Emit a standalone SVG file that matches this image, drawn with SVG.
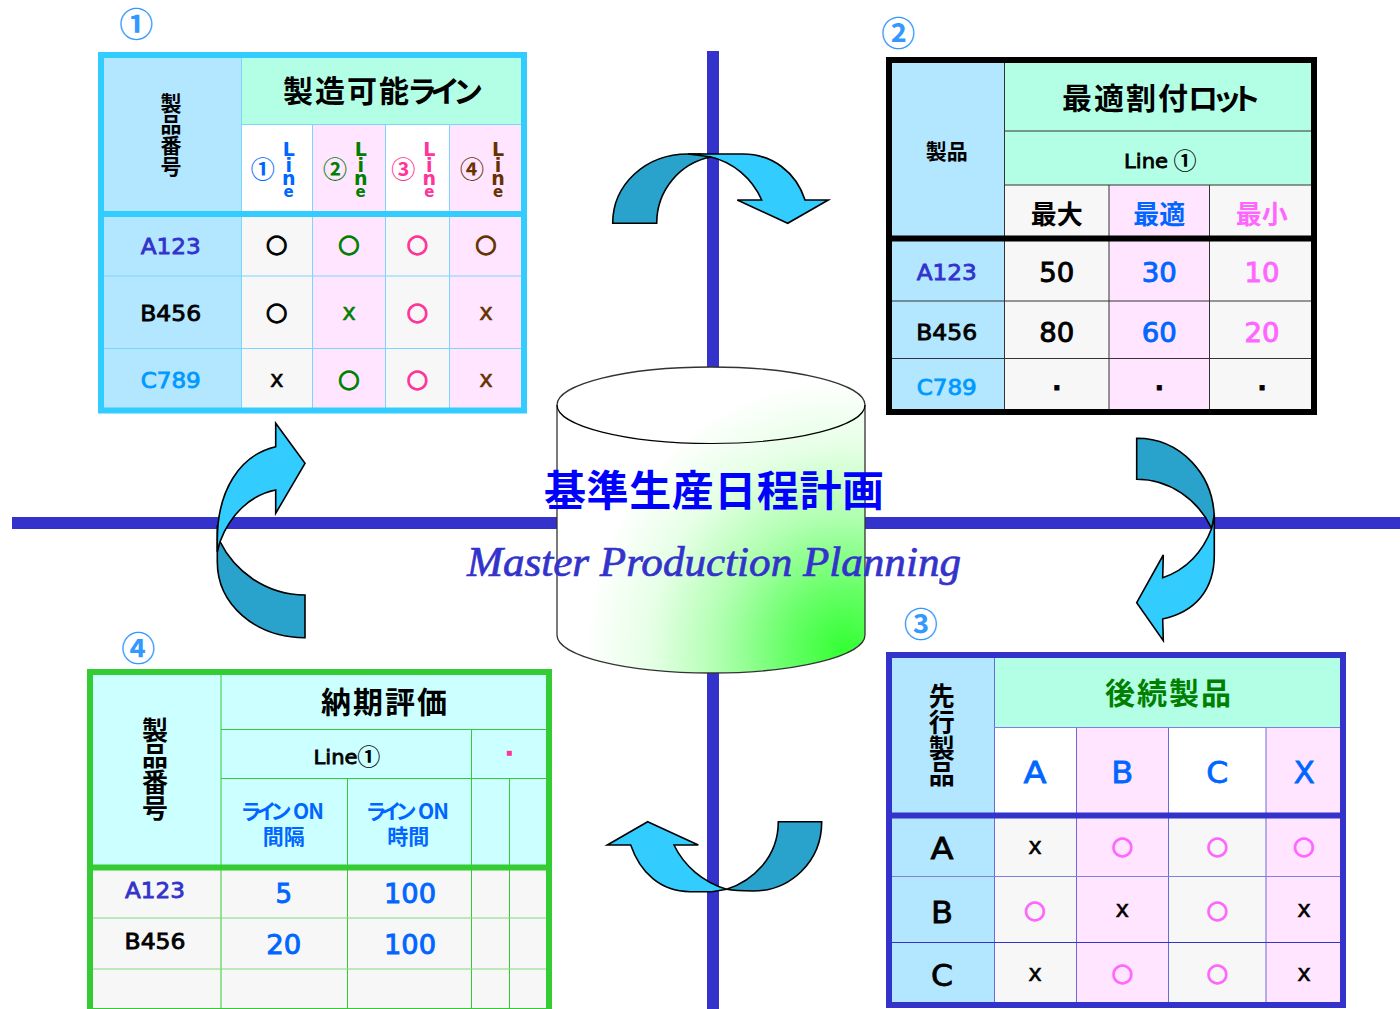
<svg xmlns="http://www.w3.org/2000/svg" width="1400" height="1009" viewBox="0 0 1400 1009">
<style>
text{text-anchor:middle}
.l{font-family:"DejaVu Sans",sans-serif;stroke-width:.8}
.j{font-family:"Noto Sans CJK JP",sans-serif;font-weight:700;stroke-width:0}
.s{text-anchor:start}
.k{fill:#000;stroke:#000}.b{fill:#06f;stroke:#06f}.g{fill:#007f00;stroke:#007f00}.p{fill:#f39;stroke:#f39}.r{fill:#630;stroke:#630}.v{fill:#f6f;stroke:#f6f}.i{fill:#33c;stroke:#33c}.c{fill:#09f;stroke:#09f}
.o{font-family:"DejaVu Sans",sans-serif;font-size:25px;stroke-width:1.1;transform:translateY(-1.500px)}
.x{font-family:"DejaVu Sans",sans-serif;font-size:23px;stroke-width:.5}
.num{font-family:"DejaVu Sans",sans-serif;font-size:26px;stroke-width:.9}
.id{font-family:"DejaVu Sans",sans-serif;font-size:21.5px;stroke-width:.8}
.lab{font-family:"Noto Sans CJK JP",sans-serif;font-weight:700;font-size:34px;fill:#39f}
.ln{font-family:"DejaVu Sans",sans-serif;font-weight:700;font-size:19px;stroke-width:0}
.arrow{stroke:#000;stroke-width:1.6;stroke-linejoin:miter}
.dark{fill:#29a3cc}.light{fill:#3cf}
.fb{fill:#b3e6ff}.fm{fill:#b3ffe5}.fw{fill:#fff}.fp{fill:#ffe5ff}.fa{fill:#f7f7f7}.fc{fill:#cff}
.grid{fill:none;stroke-width:1}
</style>
<defs>
<radialGradient id="cyl" gradientUnits="userSpaceOnUse" cx="0" cy="0" r="1" gradientTransform="translate(845 650) scale(260 272)">
<stop offset="0" stop-color="#3f3"/><stop offset=".22" stop-color="#6f6"/><stop offset=".5" stop-color="#b3ffb3"/><stop offset=".75" stop-color="#e6ffe6"/><stop offset="1" stop-color="#fff"/>
</radialGradient>
</defs>
<rect width="1400" height="1009" fill="#fff"/>
<g id="cross" fill="#33c"><rect x="12" y="517" width="1388" height="12"/><rect x="707" y="51" width="12" height="958"/></g>

<g id="cylinder">
<path d="M557 405C557 384 626 367 711 367S865 384 865 405V635C865 656 796 673 711 673S557 656 557 635Z" fill="url(#cyl)" stroke="#333" stroke-width="1.3"/>
<path d="M557 405C557 426 626 443.500 711 443.500S865 426 865 405" fill="none" stroke="#000" stroke-width="1.2"/>
</g>

<g id="connectors">
<path class="arrow dark" d="M612.700 223.300C612.700 185 645 154 688 154L700 154Q706 154 711 157C680 163 656.700 190 656.700 223.300Z"/>
<path class="arrow light" d="M688 154H743C772 154 796 172 805 200H828.300L787.700 223.300L737.300 200H761.700C752 178 733 162 710 156.700Z"/>
<path class="arrow dark" d="M1136.700 438.300V479.300C1170 479.300 1198 500 1211.700 528.300L1214.300 520C1214.300 474 1180 438.300 1136.700 438.300Z"/>
<path class="arrow light" d="M1214.300 515V555C1214.300 590 1195 612 1162.700 619L1163.300 640.700L1136.700 602.700L1163.300 555L1162.700 577.700C1186 570 1203 552 1211.700 528.300Z"/>
<path class="arrow dark" d="M778.300 821.700H821.700C821.700 862 790 891 753.300 891C742 891 735 891 726.700 889.300C752 881 778.300 858 778.300 821.700Z"/>
<path class="arrow light" d="M647.700 821.700L698.300 845H674C684 866 703 882 726.700 889.300L712 891.700H690C660 891.700 640 872 630.700 845H607.300Z"/>
<path class="arrow dark" d="M305 595V637.700C255 637.700 217.300 604 217.300 561.700V525L220 541.700C234 570 265 595 305 595Z"/>
<path class="arrow light" d="M305 463.300L275.700 513.300V490C250 495 230 515 220 541.700L217.300 552V540C217.300 490 240 455 275.700 446.700V423.300Z"/>
</g>

<g id="table1">
<rect class="fb" x="101" y="55" width="141" height="355"/>
<rect class="fm" x="241.500" y="55" width="282" height="70"/>
<rect class="fw" x="241.500" y="125" width="71" height="89"/><rect class="fw" x="385.500" y="125" width="64" height="89"/>
<rect class="fp" x="312.500" y="125" width="73" height="285"/><rect class="fp" x="449.500" y="125" width="74" height="285"/>
<rect class="fa" x="241.500" y="214" width="71" height="196"/><rect class="fa" x="385.500" y="214" width="64" height="196"/>
<path class="grid" stroke="#7cd4ff" d="M241.500 58V408M312.500 125V408M385.500 125V408M449.500 125V408M241.500 124.500H521M104 276H521M104 348.500H521"/>
<rect x="101" y="55" width="423" height="355.500" fill="none" stroke="#3cf" stroke-width="6"/>
<path d="M98 214H527" stroke="#3cf" stroke-width="6"/>
<text class="j k" font-size="21" x="171 171 171 171" y="110.500 131.500 152.500 173.500">製品番号</text>
<text class="j k s" font-size="30" x="283 315 347 379 407 430 453" y="102">製造可能ライン</text>
<text class="j b" font-size="24" x="262.700" y="177.500">①</text><text class="b ln" x="288.700 288.700 288.700" y="156 172 185">Lin<tspan x="288.700" y="197" font-size="15">e</tspan></text>
<text class="j g" font-size="24" x="335" y="177.500">②</text><text class="g ln" x="360.700 360.700 360.700" y="156 172 185">Lin<tspan x="360.700" y="197" font-size="15">e</tspan></text>
<text class="j p" font-size="24" x="403.300" y="177.500">③</text><text class="p ln" x="429.300 429.300 429.300" y="156 172 185">Lin<tspan x="429.300" y="197" font-size="15">e</tspan></text>
<text class="j r" font-size="24" x="472" y="177.500">④</text><text class="r ln" x="498 498 498" y="156 172 185">Lin<tspan x="498" y="197" font-size="15">e</tspan></text>
<text class="id i" x="170.700" y="253.500" textLength="60" lengthAdjust="spacingAndGlyphs">A123</text><text class="id k" x="170.700" y="320.500" textLength="61" lengthAdjust="spacingAndGlyphs">B456</text><text class="id c" x="170.700" y="387.500" textLength="60" lengthAdjust="spacingAndGlyphs">C789</text>
<text class="o k" x="276.700" y="253.500">○</text><text class="o g" x="349" y="253.500">○</text><text class="o p" x="417.300" y="253.500">○</text><text class="o r" x="486" y="253.500">○</text>
<text class="o k" x="276.700" y="321">○</text><text class="x g" x="349" y="319.500">x</text><text class="o p" x="417.300" y="321">○</text><text class="x r" x="486" y="319.500">x</text>
<text class="x k" x="276.700" y="386.500">x</text><text class="o g" x="349" y="388">○</text><text class="o p" x="417.300" y="388">○</text><text class="x r" x="486" y="386.500">x</text>
</g>
<text id="label1" class="lab" x="136.300" y="37">①</text>

<g id="table2">
<rect class="fb" x="889" y="60" width="116" height="352"/>
<rect class="fm" x="1005" y="60" width="309" height="125"/>
<rect class="fa" x="1005" y="185" width="104" height="227"/>
<rect class="fp" x="1109" y="185" width="100" height="227"/>
<rect class="fa" x="1209" y="185" width="105" height="227"/>
<path class="grid" stroke="#333" d="M1004.500 63V409M1109 185V409M1209.500 185V409"/>
<path class="grid" stroke="#333" stroke-width="1.300" d="M1005 131H1311M1005 185H1311M892 301H1311M892 358.500H1311"/>
<rect x="889" y="60" width="425" height="352" fill="none" stroke="#000" stroke-width="6"/>
<path d="M886 238.500H1317" stroke="#000" stroke-width="6"/>
<text class="j k" font-size="21" x="946.700" y="158.500">製品</text>
<text class="j k s" font-size="30" x="1062 1094 1126 1158 1188 1212 1231" y="109">最適割付ロット</text>
<text class="l k" font-size="20" x="1146" y="167.500" textLength="44" lengthAdjust="spacingAndGlyphs">Line</text><text class="j k" font-size="23" x="1185" y="168.500">①</text>
<text class="j k" font-size="26" x="1056.700" y="223.500">最大</text><text class="j b" font-size="26" x="1159.300" y="223.500">最適</text><text class="j v" font-size="26" x="1261.700" y="223.500">最小</text>
<text class="id i" x="946.700" y="279.500" textLength="60" lengthAdjust="spacingAndGlyphs">A123</text><text class="id k" x="946.700" y="340" textLength="61" lengthAdjust="spacingAndGlyphs">B456</text><text class="id c" x="946.700" y="395" textLength="60" lengthAdjust="spacingAndGlyphs">C789</text>
<text class="num k" x="1056.700" y="282" textLength="35" lengthAdjust="spacingAndGlyphs">50</text><text class="num b" x="1159.300" y="282" textLength="35" lengthAdjust="spacingAndGlyphs">30</text><text class="num v" x="1262" y="282" textLength="35" lengthAdjust="spacingAndGlyphs">10</text>
<text class="num k" x="1056.700" y="342" textLength="35" lengthAdjust="spacingAndGlyphs">80</text><text class="num b" x="1159.300" y="342" textLength="35" lengthAdjust="spacingAndGlyphs">60</text><text class="num v" x="1262" y="342" textLength="35" lengthAdjust="spacingAndGlyphs">20</text>
<text class="l k" font-size="24" font-weight="700" x="1056.700" y="390">.</text><text class="l k" font-size="24" font-weight="700" x="1159.300" y="390">.</text><text class="l k" font-size="24" font-weight="700" x="1262" y="390">.</text>
</g>
<text id="label2" class="lab" x="898.300" y="46">②</text>

<g id="table3">
<rect class="fb" x="889" y="655" width="106" height="350"/>
<rect class="fm" x="994" y="655" width="349" height="73"/>
<rect class="fw" x="994" y="728" width="83" height="88"/><rect class="fw" x="1168" y="728" width="98" height="88"/>
<rect class="fp" x="1076.500" y="728" width="92" height="277"/><rect class="fp" x="1266" y="728" width="77" height="277"/>
<rect class="fa" x="994" y="816" width="83" height="189"/><rect class="fa" x="1168" y="816" width="98" height="189"/>
<path class="grid" stroke="#6a6ad9" d="M994.500 658V1002M1076.500 728V1002M1168.500 728V1002M1266 728V1002"/>
<path class="grid" stroke="#7f7fe0" d="M994 727.500H1340M892 876.500H1340"/>
<path class="grid" stroke="#33c" d="M892 942.500H1340"/>
<rect x="889" y="655" width="454" height="350" fill="none" stroke="#33c" stroke-width="6"/>
<path d="M886 815.500H1346" stroke="#33c" stroke-width="6"/>
<text class="j k" font-size="26" x="941.700 941.700 941.700 941.700" y="706 732 758 784">先行製品</text>
<text class="j g" font-size="30" letter-spacing="2" x="1169" y="704">後続製品</text>
<text class="l b" font-size="31" stroke-width="1.300" x="1035" y="783" textLength="23" lengthAdjust="spacingAndGlyphs">A</text><text class="l b" font-size="31" stroke-width="1.300" x="1122.300" y="783" textLength="22" lengthAdjust="spacingAndGlyphs">B</text><text class="l b" font-size="31" stroke-width="1.300" x="1217.300" y="783" textLength="22" lengthAdjust="spacingAndGlyphs">C</text><text class="l b" font-size="31" stroke-width="1.300" x="1304.300" y="783" textLength="21" lengthAdjust="spacingAndGlyphs">X</text>
<text class="l k" font-size="31" stroke-width="1.300" x="942" y="859" textLength="23" lengthAdjust="spacingAndGlyphs">A</text><text class="l k" font-size="31" stroke-width="1.300" x="942" y="923" textLength="22" lengthAdjust="spacingAndGlyphs">B</text><text class="l k" font-size="31" stroke-width="1.300" x="942" y="986" textLength="22" lengthAdjust="spacingAndGlyphs">C</text>
<text class="x k" x="1035" y="853.500">x</text><text class="o v" x="1122.300" y="855">○</text><text class="o v" x="1217.300" y="855">○</text><text class="o v" x="1304" y="855">○</text>
<text class="o v" x="1035" y="919">○</text><text class="x k" x="1122.300" y="917">x</text><text class="o v" x="1217.300" y="919">○</text><text class="x k" x="1304" y="917">x</text>
<text class="x k" x="1035" y="981">x</text><text class="o v" x="1122.300" y="982.500">○</text><text class="o v" x="1217.300" y="982.500">○</text><text class="x k" x="1304" y="981">x</text>
</g>
<text id="label3" class="lab" x="920.700" y="637">③</text>

<g id="table4">
<rect class="fc" x="90" y="672" width="459" height="195"/>
<rect class="fa" x="90" y="867" width="459" height="142"/>
<path class="grid" stroke="#3c3" d="M221 675V1008M347.500 778V1008M471.500 729V1008M509.500 778V1008M221 729.500H546M221 778.500H546"/>
<path class="grid" stroke="#80d880" stroke-width="1.300" d="M93 918H546M93 969H546"/>
<path d="M90 1009V672H549V1009" fill="none" stroke="#3c3" stroke-width="6"/>
<path d="M87 1008.500H552" stroke="#3c3" stroke-width="1"/>
<path d="M87 867.500H552" stroke="#3c3" stroke-width="6"/>
<text class="j k" font-size="26" x="155 155 155 155" y="740 766 792 818">製品番号</text>
<text class="j k" font-size="30" letter-spacing="2" x="385" y="713">納期評価</text>
<text class="l k" font-size="20" x="335.500" y="764" textLength="44" lengthAdjust="spacingAndGlyphs">Line</text><text class="j k" font-size="23" x="368.700" y="765">①</text>
<rect x="506.800" y="750.800" width="5" height="5" fill="#f39"/>
<text class="j b" font-size="21" x="251 266 281 301 316" y="819">ラインON</text><text class="j b" font-size="21" x="283.700" y="844">間隔</text>
<text class="j b" font-size="21" x="376 391 406 426 441" y="819">ラインON</text><text class="j b" font-size="21" x="408.300" y="844">時間</text>
<text class="id i" x="155" y="898" textLength="60" lengthAdjust="spacingAndGlyphs">A123</text><text class="id k" x="155" y="949" textLength="61" lengthAdjust="spacingAndGlyphs">B456</text>
<text class="num b" x="283.700" y="903">5</text><text class="num b" x="410" y="903" textLength="52" lengthAdjust="spacingAndGlyphs">100</text><text class="num b" x="283.700" y="954" textLength="35" lengthAdjust="spacingAndGlyphs">20</text><text class="num b" x="410" y="954" textLength="52" lengthAdjust="spacingAndGlyphs">100</text>
</g>
<text id="label4" class="lab" x="138.300" y="661">④</text>

<g id="title">
<text class="j" font-size="42" fill="#00f" x="714" y="506" textLength="340" lengthAdjust="spacing">基準生産日程計画</text>
<text font-family="'Liberation Serif',serif" font-style="italic" font-size="42" fill="#33c" stroke="#33c" stroke-width=".7" x="714" y="576" textLength="494" lengthAdjust="spacingAndGlyphs">Master Production Planning</text>
</g>
</svg>
